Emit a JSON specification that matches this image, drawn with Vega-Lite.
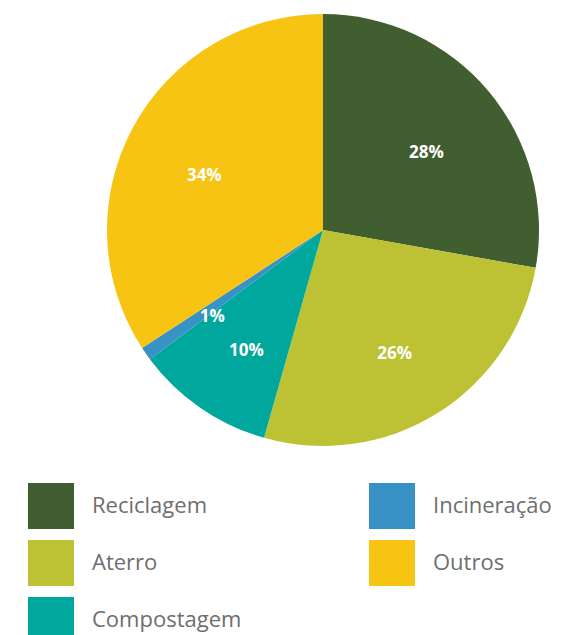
{
  "$schema": "https://vega.github.io/schema/vega-lite/v6.json",
  "width": 432,
  "height": 432,
  "autosize": "none",
  "padding": {"left": 107, "top": 14, "right": 47, "bottom": 189},
  "background": "white",
  "config": {"view": {"stroke": null}},
  "data": {
    "values": [
      {"destino": "Reciclagem", "valor": 27.8, "rotulo": "28%", "ord": 1},
      {"destino": "Aterro", "valor": 26.6, "rotulo": "26%", "ord": 2},
      {"destino": "Compostagem", "valor": 10.4, "rotulo": "10%", "ord": 3},
      {"destino": "Incineração", "valor": 1.0, "rotulo": "1%", "ord": 4},
      {"destino": "Outros", "valor": 34.2, "rotulo": "34%", "ord": 5}
    ]
  },
  "encoding": {
    "theta": {"field": "valor", "type": "quantitative", "stack": true},
    "order": {"field": "ord", "type": "quantitative"}
  },
  "layer": [
    {
      "mark": {"type": "arc", "stroke": null},
      "encoding": {
        "color": {
          "field": "destino",
          "type": "nominal",
          "scale": {
            "domain": ["Reciclagem", "Aterro", "Compostagem", "Incineração", "Outros"],
            "range": ["#405E2F", "#BCC233", "#00A79D", "#3892C6", "#F8C414"]
          },
          "legend": {
            "title": null,
            "orient": "none",
            "legendX": -79,
            "legendY": 469,
            "columns": 2,
            "symbolType": "square",
            "symbolSize": 2116,
            "symbolStrokeWidth": 0,
            "symbolOpacity": 1,
            "labelFont": "Open Sans",
            "labelFontSize": 22,
            "labelColor": "#6e6e6e",
            "labelOffset": 18,
            "rowPadding": 11,
            "columnPadding": 127,
            "labelLimit": 300
          }
        }
      }
    },
    {
      "mark": {"type": "text", "radius": 135, "dy": 10, "font": "Open Sans", "fontWeight": "bold", "fontSize": 17, "color": "white"},
      "encoding": {
        "text": {"field": "rotulo", "type": "nominal"}
      }
    }
  ]
}
